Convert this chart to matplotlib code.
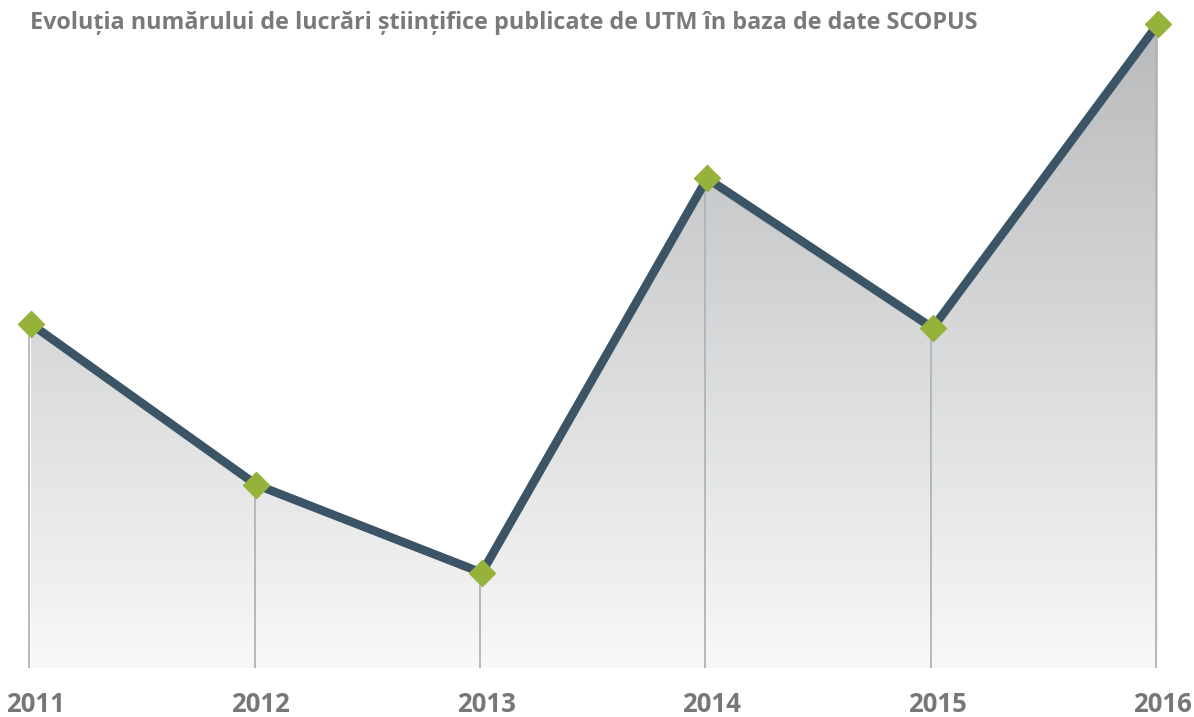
import matplotlib
matplotlib.use("Agg")
import matplotlib.pyplot as plt
import numpy as np
from matplotlib.colors import LinearSegmentedColormap

years = ["2011", "2012", "2013", "2014", "2015", "2016"]
values = [43.0, 22.9, 11.9, 61.2, 42.5, 80.5]
title = "Evoluția numărului de lucrări științifice publicate de UTM în baza de date SCOPUS"

W, H = 1194, 717
fig = plt.figure(figsize=(W / 100, H / 100), dpi=100)
ax = fig.add_axes([0, 0, 1, 1])
ax.set_axis_off()

x = np.arange(len(years))
step = 225.4
x0 = 31
ax.set_xlim(-x0 / step, (W - x0) / step)
base = 668
scale = 8.0
ax.set_ylim((base - H) / scale, base / scale)

# gradient fill under the line
cmap = LinearSegmentedColormap.from_list("g", ["#f8f8f8", "#b9babc"])
top = max(values)
grad = np.linspace(0, 1, 256).reshape(-1, 1)
im = ax.imshow(grad, extent=[x[0], x[-1], 0, top], origin="lower", aspect="auto",
               cmap=cmap, zorder=1)
poly = ax.fill_between(x, 0, values, facecolor="none", edgecolor="none")
path = poly.get_paths()[0]
im.set_clip_path(path, transform=ax.transData)

# vertical drop lines
ax.vlines(x - 0.008, 0, values, colors="#a9b5be", linewidth=1.3, zorder=2)

# main line
ax.plot(x, values, color="#3b5566", linewidth=6.2, solid_joinstyle="miter", zorder=3)
ax.plot(x, values, linestyle="none", marker="D", markersize=13,
        markerfacecolor="#97b23a", markeredgecolor="#97b23a", zorder=4)

# year labels
for xi, lab in zip(x, years):
    ax.text(xi + 0.02, (base - 705) / scale, lab, ha="center", va="center",
            fontsize=18.5, fontweight="bold", color="#777777", family="Open Sans")

fig.text(30 / W, 1 - 23 / H, title, ha="left", va="center", fontsize=16.8,
         fontweight="bold", color="#7a7a7a", family="Open Sans")

fig.savefig("out.png", dpi=100)
